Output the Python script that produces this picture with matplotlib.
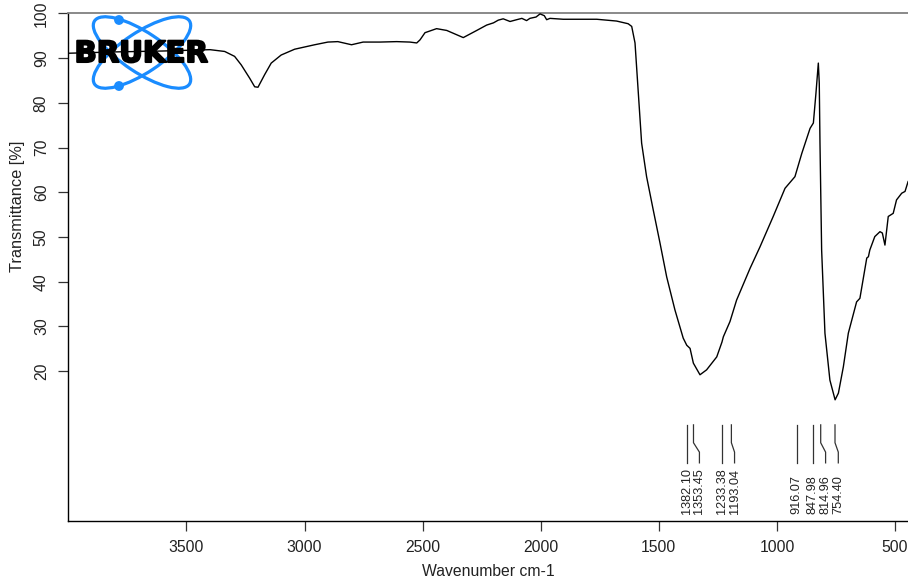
import numpy as np
import matplotlib
matplotlib.use('Agg')
import matplotlib.pyplot as plt
from matplotlib.patches import Ellipse, Circle
import matplotlib.patheffects as pe

# ---------------- data ----------------
wavenumber = [4000, 3800, 3600, 3400, 3338, 3296, 3268, 3232, 3211, 3197, 3169, 3141,
              3099, 3042, 2957, 2901, 2859, 2801, 2752, 2681, 2610, 2554, 2525, 2511,
              2490, 2441, 2398, 2328, 2271, 2229, 2200, 2180, 2159, 2130, 2102, 2080,
              2060, 2046, 2020, 2003, 1985, 1975, 1961, 1905, 1763, 1679, 1630, 1615,
              1601, 1587, 1573, 1552, 1524, 1495, 1467, 1432, 1397, 1382, 1368, 1354,
              1326, 1298, 1255, 1233, 1227, 1199, 1171, 1114, 1072, 1016, 966, 924,
              895, 860, 846, 835, 825, 821, 818, 811, 797, 776, 754, 740, 719, 698,
              663, 649, 620, 613, 607, 586, 564, 554, 543, 529, 508, 494, 472, 458, 445]
transmittance = [91.1, 91.4, 91.6, 91.9, 91.5, 90.4, 88.5, 85.5, 83.6, 83.5, 86.3, 88.9,
                 90.7, 92.0, 93.0, 93.6, 93.7, 93.0, 93.6, 93.6, 93.7, 93.6, 93.4, 94.1,
                 95.7, 96.6, 96.2, 94.6, 96.2, 97.4, 97.9, 98.5, 98.8, 98.2, 98.6, 98.9,
                 98.4, 98.9, 99.2, 99.9, 99.5, 98.6, 98.9, 98.7, 98.7, 98.3, 97.7, 97.1,
                 93.4, 82.2, 71.0, 63.5, 56.1, 48.6, 41.1, 33.7, 27.4, 25.8, 25.1, 21.8,
                 19.2, 20.3, 23.2, 26.5, 27.7, 31.1, 35.9, 43.0, 47.8, 54.6, 60.9, 63.5,
                 68.7, 74.3, 75.5, 82.2, 88.9, 84.4, 71.0, 47.1, 28.5, 18.0, 13.6, 15.1,
                 21.0, 28.5, 35.5, 36.3, 45.3, 45.6, 47.1, 50.1, 51.2, 50.9, 48.2, 54.6,
                 55.3, 58.3, 59.8, 60.2, 62.4]
peak_positions = [1382.10, 1353.45, 1233.38, 1193.04, 916.07, 847.98, 814.96, 754.40]
x_ticks = [3500, 3000, 2500, 2000, 1500, 1000, 500]
y_ticks = [20, 30, 40, 50, 60, 70, 80, 90, 100]

# ---------------- figure ----------------
W, H = 908, 581
fig = plt.figure(figsize=(W / 100, H / 100), dpi=100)
L, R, T, B = 68.3, 908, 13, 521
ax = fig.add_axes([L / W, 1 - B / H, (R - L) / W, (B - T) / H])

FONT = 'Liberation Sans'
TXT = '#222222'

ax.plot(wavenumber, transmittance, color='black', lw=1.0, zorder=3)
ax.set_xlim(4000, 445.4)
ax.set_ylim(-13.5, 100.1)

ax.set_xticks(x_ticks)
ax.set_xticklabels([str(v) for v in x_ticks], fontfamily=FONT, fontsize=11.3, color=TXT)
ax.set_yticks(y_ticks)
ax.set_yticklabels([str(v) for v in y_ticks], fontfamily=FONT, fontsize=11.3, color=TXT,
                   rotation=90, va='center', ha='right')
ax.tick_params(axis='both', direction='out', length=7, width=0.9, color='#333333', pad=7)

for s in ['left', 'bottom']:
    ax.spines[s].set_color('black')
    ax.spines[s].set_linewidth(1.0)
ax.spines['top'].set_color('#808080')
ax.spines['top'].set_linewidth(1.3)
ax.spines['right'].set_visible(False)

ax.set_xlabel('Wavenumber cm-1', fontfamily=FONT, fontsize=11.3, color=TXT, labelpad=6)
# y label: its start sits lower-middle of the axis as in the reference
fig.text(18 / W, 1 - 272 / H, 'Transmittance [%]', rotation=90, ha='center', va='bottom',
         fontfamily=FONT, fontsize=11.8, color=TXT)

# ---------------- peak annotations ----------------
min_gap_px = 12.7
peaks_sorted = sorted(peak_positions, reverse=True)
px = [ax.transData.transform((p, 0))[0] for p in peaks_sorted]
label_px = []
for i, v in enumerate(px):
    if i == 0:
        label_px.append(v)
    else:
        label_px.append(max(v, label_px[-1] + min_gap_px))
inv = ax.transData.inverted()
label_w = [inv.transform((lp, 0))[0] for lp in label_px]

y_top, y_b1, y_b2, y_bot, y_txt = 8.0, 4.0, 1.9, -0.5, -11.95
for p, lw_ in zip(peaks_sorted, label_w):
    ax.plot([p, p, lw_, lw_], [y_top, y_b1, y_b2, y_bot], color='#333333', lw=0.9,
            solid_joinstyle='round')
    ax.text(lw_, y_txt, f'{p:.2f}', rotation=90, ha='center', va='bottom',
            fontfamily=FONT, fontsize=9.2, color=TXT)

# ---------------- logo overlay ----------------
lax = fig.add_axes([0, 0, 1, 1], zorder=5)
lax.set_xlim(0, W)
lax.set_ylim(H, 0)
lax.axis('off')
lax.patch.set_alpha(0)
blue = '#1a8cff'
cx, cy = 142, 52.5
for ang in (33.7, -33.7):
    lax.add_patch(Ellipse((cx, cy), 114, 40, angle=ang, fill=False, ec=blue, lw=2.3))
lax.add_patch(Circle((119, 20), 4.2, color=blue))
lax.add_patch(Circle((119, 86), 4.2, color=blue))
lax.text(141, 54, 'BRUKER', fontfamily='DejaVu Sans', fontweight='bold', fontsize=21,
         ha='center', va='center', color='black',
         path_effects=[pe.withStroke(linewidth=1.5, foreground='black')])

fig.savefig('out.png', dpi=100)
